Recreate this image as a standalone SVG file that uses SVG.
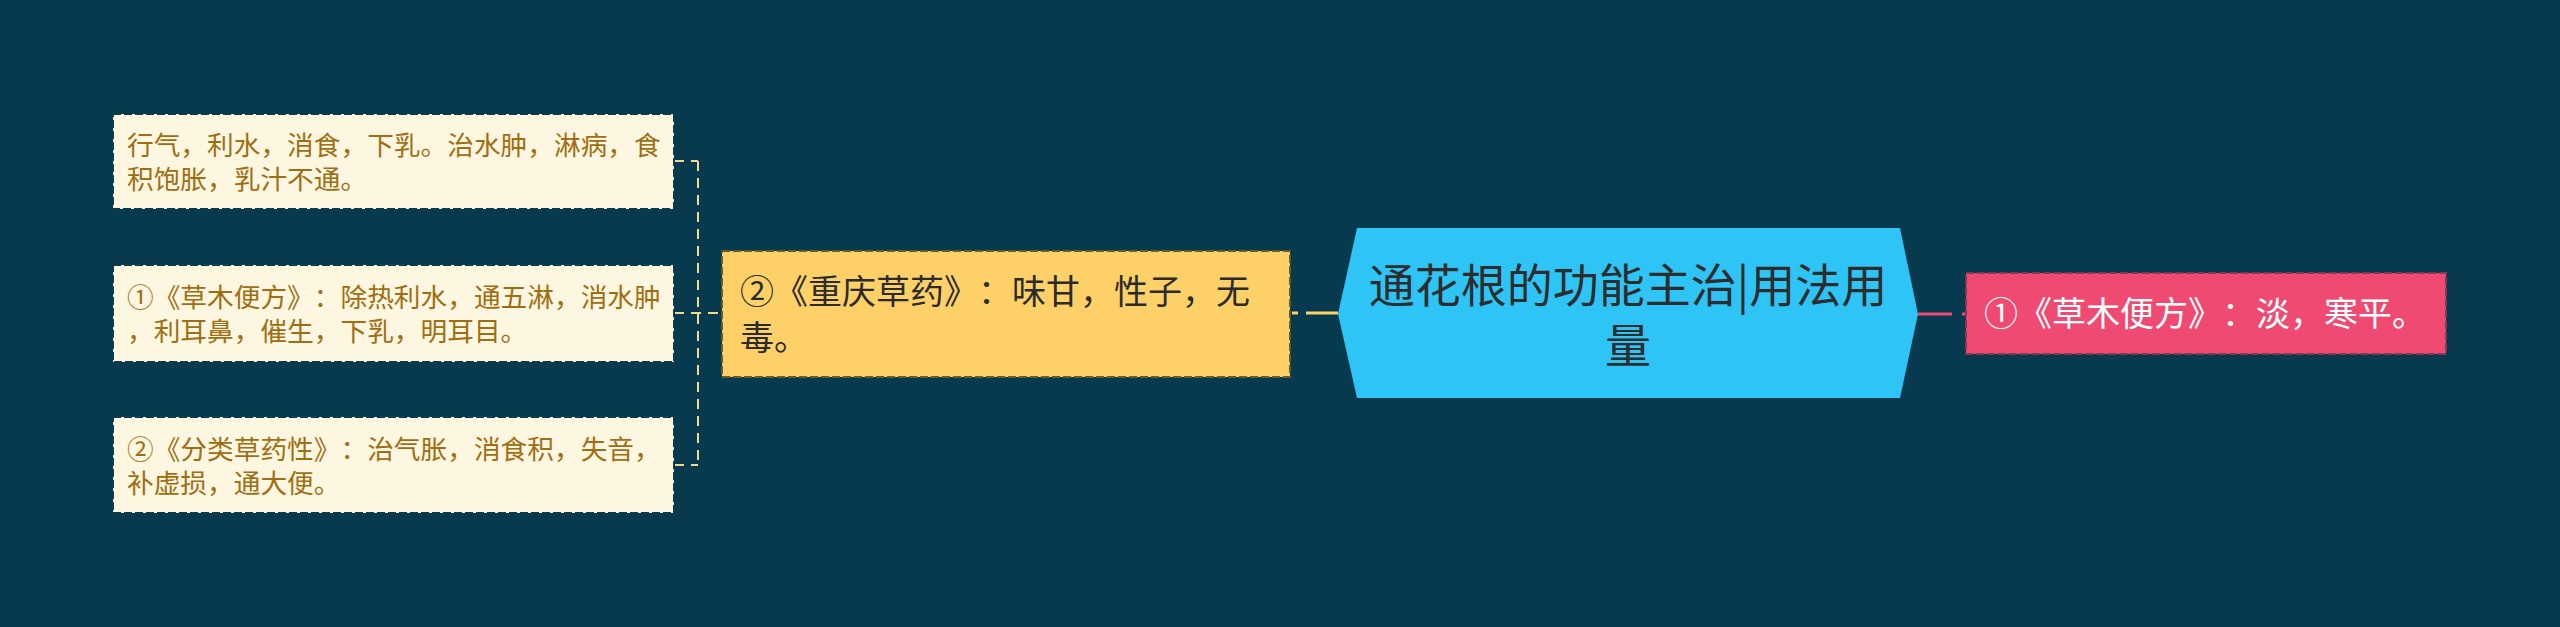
<svg xmlns="http://www.w3.org/2000/svg" width="2560" height="627" viewBox="0 0 2560 627">
<style>
text{font-family:"Noto Sans CJK SC","Noto Sans",sans-serif;text-spacing-trim:space-all;font-feature-settings:"halt" 0,"chws" 0}
.leaf rect{fill:#fdf6e0;stroke:#0b3b4c;stroke-width:2;stroke-dasharray:8 3}
.leaf text{fill:#a06e12;font-size:26.7px}
.mid rect{fill:#fdd068;stroke:#6b5a2a;stroke-width:2;stroke-dasharray:8 3}
.mid text{fill:#2b2b2b;font-size:34px}
.pink rect{fill:#ef4b72;stroke:#8a3550;stroke-width:2;stroke-dasharray:8 3}
.pink text{fill:#ffffff;font-size:34px}
.root text{fill:#2d2d2d;font-size:46px}
.cy{stroke:#f3d98a;stroke-width:2;fill:none;stroke-dasharray:10 7}
</style>
<rect width="2560" height="627" fill="#073a4e"/>
<g id="connectors">
<line class="cy" x1="698" y1="161" x2="698" y2="465"/>
<line class="cy" x1="674" y1="161" x2="698" y2="161"/>
<line class="cy" x1="674" y1="313" x2="722" y2="313"/>
<line class="cy" x1="674" y1="465" x2="698" y2="465"/>
<line x1="1338" y1="313" x2="1290" y2="313" stroke="#fdd068" stroke-width="3" stroke-dasharray="32 8 6 100"/>
<line x1="1918" y1="314" x2="1966" y2="314" stroke="#ef4b72" stroke-width="3" stroke-dasharray="34 10 6 100"/>
</g>
<g id="root" class="root">
<polygon points="1357,228 1900,228 1918,314 1900,398 1357,398 1338,314" fill="#2ec4f5"/>
<text x="1628" y="302" text-anchor="middle">通花根的功能主治|用法用</text>
<text x="1628" y="362" text-anchor="middle">量</text>
</g>
<g id="node-mid" class="mid">
<rect x="722" y="251" width="568" height="126"/>
<text x="740" y="304">②《重庆草药》：味甘，性子，无</text>
<text x="740" y="350">毒。</text>
</g>
<g id="node-pink" class="pink">
<rect x="1966" y="273" width="480" height="81"/>
<text x="1984" y="326">①《草木便方》：淡，寒平。</text>
</g>
<g id="leaf1" class="leaf">
<rect x="113" y="114" width="561" height="95"/>
<text x="127" y="155">行气，利水，消食，下乳。治水肿，淋病，食</text>
<text x="127" y="189">积饱胀，乳汁不通。</text>
</g>
<g id="leaf2" class="leaf">
<rect x="113" y="265" width="561" height="97"/>
<text x="127" y="307">①《草木便方》：除热利水，通五淋，消水肿</text>
<text x="127" y="341">，利耳鼻，催生，下乳，明耳目。</text>
</g>
<g id="leaf3" class="leaf">
<rect x="113" y="417" width="561" height="96"/>
<text x="127" y="459">②《分类草药性》：治气胀，消食积，失音，</text>
<text x="127" y="493">补虚损，通大便。</text>
</g>
</svg>
